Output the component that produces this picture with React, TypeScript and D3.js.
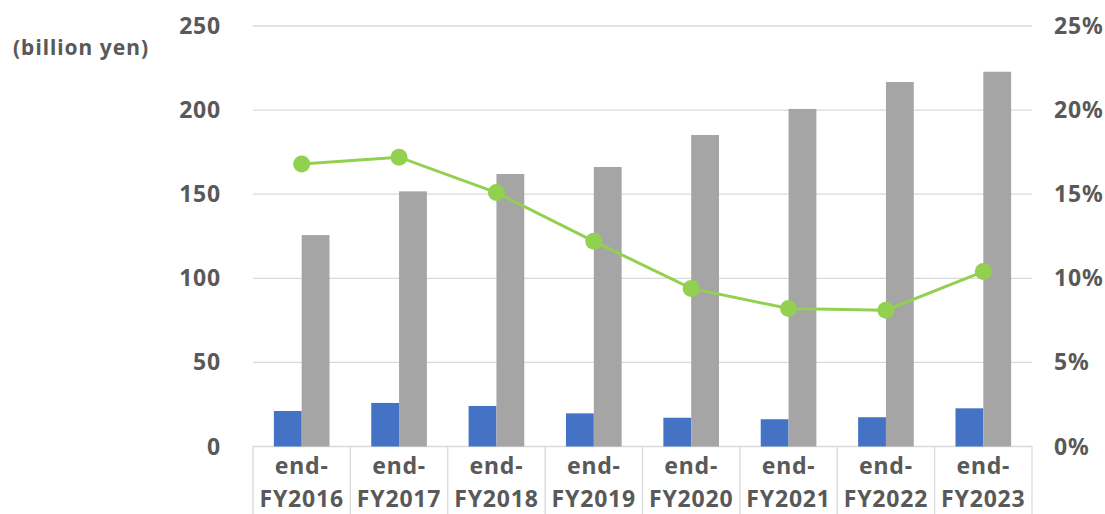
import React from 'react';
import { scaleBand, scaleLinear, line } from 'd3';

const categories = ['FY2016', 'FY2017', 'FY2018', 'FY2019', 'FY2020', 'FY2021', 'FY2022', 'FY2023'];
const blueValues = [21.1, 25.9, 24.1, 19.7, 17.1, 16.2, 17.4, 22.7];
const grayValues = [125.7, 151.7, 162.0, 166.2, 185.2, 200.7, 216.7, 222.8];
const ratioValues = [16.8, 17.2, 15.1, 12.2, 9.4, 8.2, 8.1, 10.4];
const leftTicks = [0, 50, 100, 150, 200, 250];
const rightTicks = [0, 5, 10, 15, 20, 25];

const W = 1105;
const H = 514;
const margin = { top: 26, right: 73, bottom: 67.5, left: 253 };
const textColor = '#595959';
const gridColor = '#D9D9D9';
const font = '"Noto Sans", "DejaVu Sans", sans-serif';

const App: React.FC = () => {
  const innerW = W - margin.left - margin.right;
  const innerH = H - margin.top - margin.bottom;

  const x = scaleBand<string>().domain(categories).range([0, innerW]);
  const yLeft = scaleLinear().domain([0, 250]).range([innerH, 0]);
  const yRight = scaleLinear().domain([0, 25]).range([innerH, 0]);

  const band = x.bandwidth();
  const barW = band / 3.5;
  const gap = (band - 2 * barW) / 2;

  const linePath = line<number>()
    .x((_, i) => (x(categories[i]) ?? 0) + band / 2)
    .y((d) => yRight(d))(ratioValues);

  return (
    <svg
      width={W}
      height={H}
      style={{ position: 'absolute', left: 0, top: 0, background: '#fff' }}
      fontFamily={font}
      fontWeight="bold"
    >
      <text x={13} y={55} fontSize={21} letterSpacing={1} fill={textColor}>
        (billion yen)
      </text>
      <g transform={`translate(${margin.left},${margin.top})`}>
        {leftTicks.map((t) => (
          <g key={t}>
            <line x1={0} x2={innerW} y1={yLeft(t)} y2={yLeft(t)} stroke={gridColor} strokeWidth={1.3} />
            <text x={-32} y={yLeft(t)} dy="0.35em" textAnchor="end" fontSize={23} letterSpacing={0.8} fill={textColor}>
              {t}
            </text>
          </g>
        ))}
        {rightTicks.map((t) => (
          <text key={t} x={innerW + 22} y={yRight(t)} dy="0.35em" textAnchor="start" fontSize={23} letterSpacing={0.8} fill={textColor}>
            {t}%
          </text>
        ))}
        {categories.map((c, i) => (
          <g key={c}>
            <rect x={(x(c) ?? 0) + gap} y={yLeft(blueValues[i])} width={barW} height={innerH - yLeft(blueValues[i])} fill="#4472C4" />
            <rect x={(x(c) ?? 0) + gap + barW} y={yLeft(grayValues[i])} width={barW} height={innerH - yLeft(grayValues[i])} fill="#A5A5A5" />
          </g>
        ))}
        {[...categories, ''].map((c, i) => {
          const xx = i * band;
          return <line key={i} x1={xx} x2={xx} y1={innerH} y2={H - margin.top} stroke={gridColor} strokeWidth={1.3} />;
        })}
        {categories.map((c) => (
          <g key={c} fill={textColor} fontSize={23} letterSpacing={0.8} textAnchor="middle">
            <text x={(x(c) ?? 0) + band / 2} y={innerH + 27}>end-</text>
            <text x={(x(c) ?? 0) + band / 2} y={innerH + 60}>{c}</text>
          </g>
        ))}
        <path d={linePath ?? ''} fill="none" stroke="#92D050" strokeWidth={3} />
        {ratioValues.map((v, i) => (
          <circle key={i} cx={(x(categories[i]) ?? 0) + band / 2} cy={yRight(v)} r={8.5} fill="#92D050" />
        ))}
      </g>
    </svg>
  );
};

export default App;
